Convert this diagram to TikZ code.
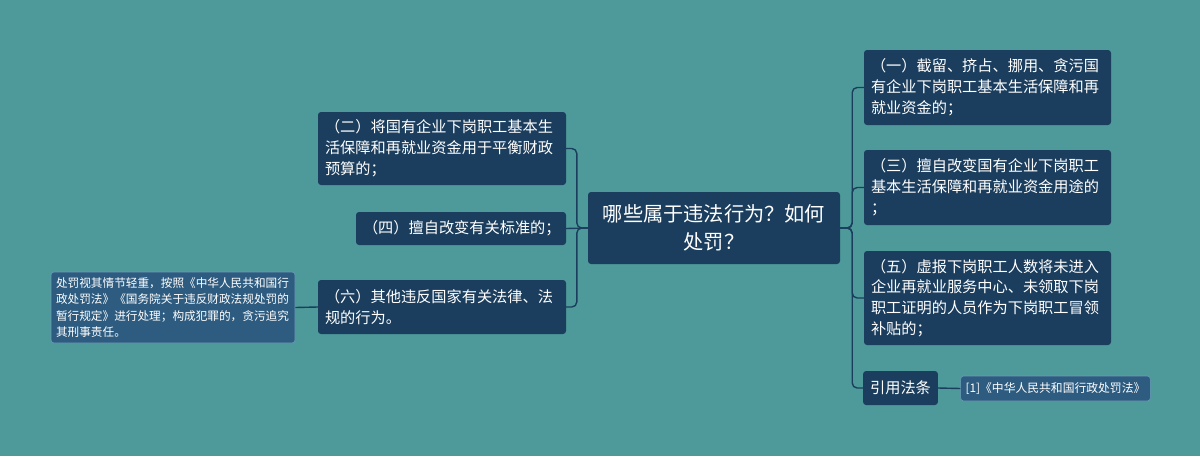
\documentclass[tikz,border=0pt]{standalone}
\usepackage{fontspec}
\newfontfamily\cjk{Noto Sans CJK SC}
\definecolor{bg}{HTML}{4E9A9A}
\definecolor{dk}{HTML}{1B3E5E}
\definecolor{lt}{HTML}{2E5C80}
\definecolor{ltb}{HTML}{6A9CB8}
\begin{document}
\begin{tikzpicture}[x=1pt,y=-1pt,
  box/.style={fill=dk, rounded corners=3pt, text=white, align=left, inner xsep=7pt, inner ysep=0pt, font=\cjk\fontsize{15.2}{20.8}\selectfont},
  rootbox/.style={box, align=center, font=\cjk\fontsize{20.2}{28}\selectfont},
  leafbox/.style={fill=lt, draw=ltb, line width=0.6pt, rounded corners=3pt, text=white, align=left, inner xsep=5pt, inner ysep=0pt, font=\cjk\fontsize{11.65}{16.6}\selectfont},
  conn/.style={draw=dk, line width=1.4pt, rounded corners=5pt}]
\fill[bg] (0,0) rectangle (1200,456);
\useasboundingbox (0,0) rectangle (1200,456);

\node[rootbox, minimum width=252pt, minimum height=72pt] (c) at (714,228) {哪些属于违法行为？如何\\处罚？};

\node[box, text width=234pt, minimum height=73pt] (n2) at (442,148.5) {（二）将国有企业下岗职工基本生\\活保障和再就业资金用于平衡财政\\预算的；};
\node[box, text width=196pt, minimum height=33pt] (n4) at (461,228.5) {（四）擅自改变有关标准的；};
\node[box, text width=234pt, minimum height=54pt] (n6) at (442,307) {（六）其他违反国家有关法律、法\\规的行为。};
\node[leafbox, text width=234pt, minimum height=71pt] (l6) at (173,307.5) {处罚视其情节轻重，按照《中华人民共和国行\\政处罚法》《国务院关于违反财政法规处罚的\\暂行规定》进行处理；构成犯罪的，贪污追究\\其刑事责任。};

\node[box, text width=233pt, minimum height=75pt] (n1) at (987.5,87.5) {（一）截留、挤占、挪用、贪污国\\有企业下岗职工基本生活保障和再\\就业资金的；};
\node[box, text width=233pt, minimum height=75pt] (n3) at (987.5,187.5) {（三）擅自改变国有企业下岗职工\\基本生活保障和再就业资金用途的\\；};
\node[box, text width=233pt, minimum height=94pt] (n5) at (987.5,298) {（五）虚报下岗职工人数将未进入\\企业再就业服务中心、未领取下岗\\职工证明的人员作为下岗职工冒领\\补贴的；};
\node[box, minimum height=34pt] (ref) at (900.5,388) {引用法条};
\node[leafbox, font=\cjk\fontsize{11.8}{15}\selectfont, minimum height=25pt] (r1) at (1055.5,388.5) {[1]《中华人民共和国行政处罚法》};

\draw[conn] (c.west) -- ++(-11,0) |- (n2.east);
\draw[conn] (c.west) -- (n4.east);
\draw[conn] (c.west) -- ++(-11,0) |- (n6.east);
\draw[conn] (n6.west) -- (l6.east);

\draw[conn] (c.east) -- ++(12,0) |- (n1.west);
\draw[conn] (c.east) -- ++(12,0) |- (n3.west);
\draw[conn] (c.east) -- ++(12,0) |- (n5.west);
\draw[conn] (c.east) -- ++(12,0) |- (ref.west);
\draw[conn] (ref.east) -- (r1.west);
\end{tikzpicture}
\end{document}
